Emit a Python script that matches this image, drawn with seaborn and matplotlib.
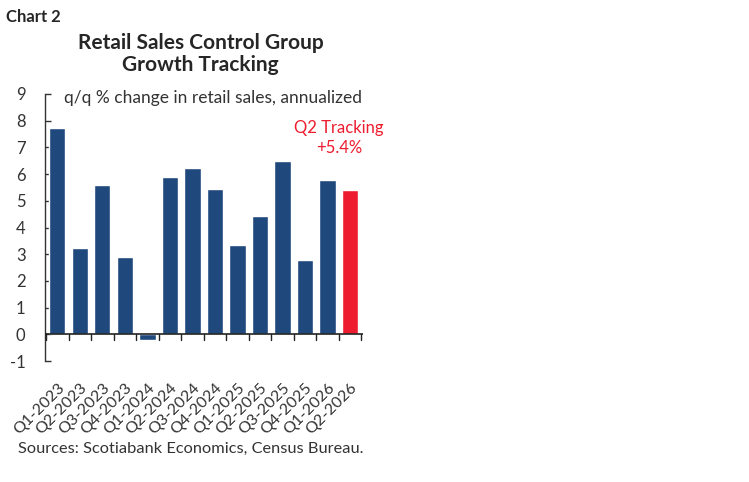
import numpy as np
import pandas as pd
import matplotlib.pyplot as plt
import seaborn as sns

# Data
quarters = ['Q1-2023', 'Q2-2023', 'Q3-2023', 'Q4-2023', 'Q1-2024', 'Q2-2024', 'Q3-2024',
            'Q4-2024', 'Q1-2025', 'Q2-2025', 'Q3-2025', 'Q4-2025', 'Q1-2026', 'Q2-2026']
growth = [7.72, 3.25, 5.59, 2.88, -0.2, 5.89, 6.22, 5.45, 3.33, 4.42, 6.5, 2.8, 5.77, 5.39]
status = ['Actual'] * 13 + ['Tracking']

df = pd.DataFrame({'quarter': quarters, 'growth': growth, 'status': status})

sns.set_theme(style='white')
plt.rcParams['font.family'] = ['Lato', 'DejaVu Sans']
plt.rcParams['axes.unicode_minus'] = False

fig = plt.figure(figsize=(7.49, 4.82), dpi=100)
ax = fig.add_axes([0.060, 0.251, 0.424, 0.554])

sns.barplot(data=df, x='quarter', y='growth', hue='status',
            palette={'Actual': '#1F497D', 'Tracking': '#ED1C2E'},
            dodge=False, width=0.72, saturation=1, legend=False, ax=ax)

ax.set_ylim(-1, 9)
ax.set_yticks(range(-1, 10))
ax.set_xlim(-0.55, len(quarters) - 0.45)
ax.set_xlabel('')
ax.set_ylabel('')

for s in ['top', 'right', 'bottom']:
    ax.spines[s].set_visible(False)
ax.spines['left'].set_color('#333333')
ax.spines['left'].set_linewidth(1.0)
ax.axhline(0, color='#222222', lw=1.2, zorder=3)

ax.tick_params(axis='y', direction='in', length=4, width=1, color='#333333',
               labelsize=12, labelcolor='#333333', pad=14, left=True)
ax.tick_params(axis='x', length=0, labelsize=11.5, labelcolor='#333333', pad=14)
plt.setp(ax.get_xticklabels(), rotation=45, ha='right', rotation_mode='anchor')

# tick marks between bars on the zero line
for b in np.arange(-0.5, len(quarters), 1.0):
    ax.plot([b, b], [0, -0.22], color='#222222', lw=1, clip_on=False, zorder=3)

fig.text(0.008, 0.965, 'Chart 2', fontsize=12, fontweight='bold', ha='left', va='center')
fig.text(0.268, 0.888, 'Retail Sales Control Group\nGrowth Tracking', fontsize=15,
         fontweight='bold', ha='center', va='center', linespacing=1.15)
ax.text(0.06, 0.985, 'q/q % change in retail sales, annualized', transform=ax.transAxes,
        fontsize=12.5, color='#333333', ha='left', va='center')
ax.text(12.5, 7.35, 'Q2 Tracking\n+5.4%', fontsize=12, color='#ED1C2E',
        ha='center', va='center', linespacing=1.25)
fig.text(0.024, 0.068, 'Sources: Scotiabank Economics, Census Bureau.', fontsize=11.8,
         color='#333333', ha='left', va='center')

fig.savefig('out.png', dpi=100, facecolor='white')
